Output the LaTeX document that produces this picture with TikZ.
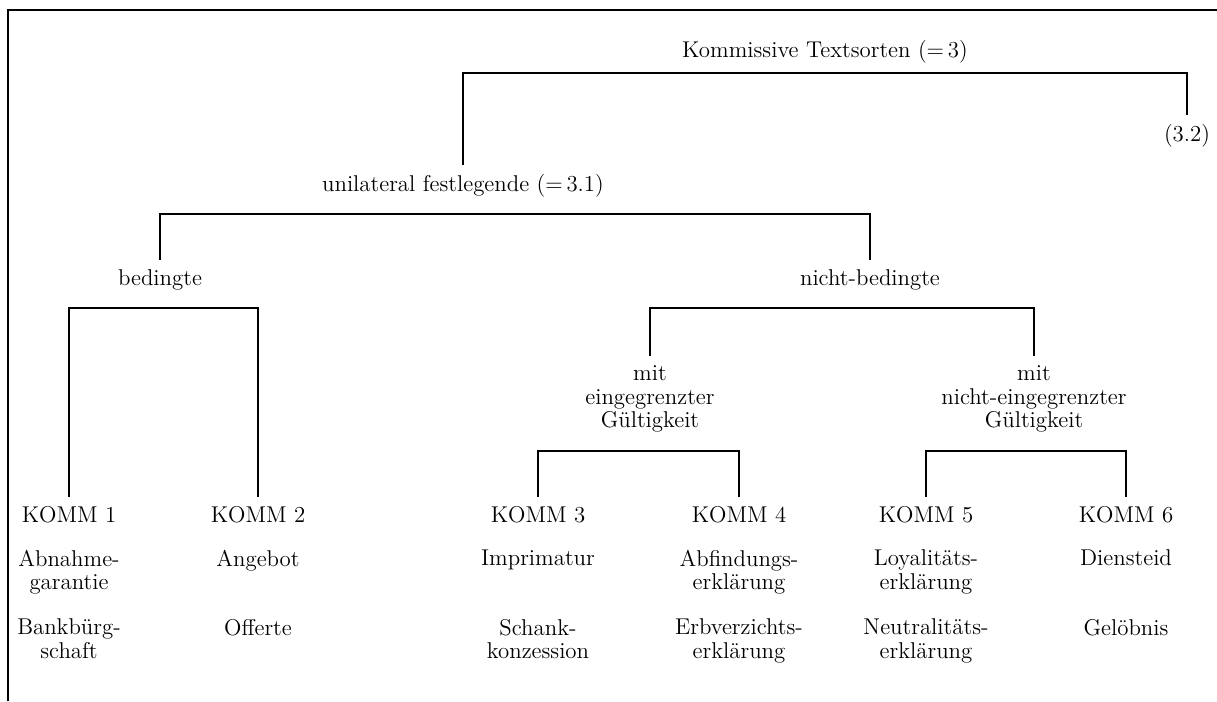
\documentclass[tikz,border=0pt]{standalone}
\usepackage{fontspec}
\usepackage{tikz}
\tikzset{
  kmlabel/.style={align=center, inner sep=5.5pt, font=\fontsize{13}{13.2}\selectfont},
  kmrow/.style={kmlabel, anchor=north},
  kmline/.style={line width=0.6pt},
  kmframe/.style={line width=1.1pt},
}
\begin{document}
\begin{tikzpicture}[x=0.2mm, y=-0.2mm]
  \useasboundingbox (0,0) rectangle (1217,701);
  \draw[kmframe] (8,701) |- (1217,10);

  % Upper levels of the classification.
  \node[kmlabel] (ks) at (825,52) {Kommissive Textsorten (=\,3)};
  \node[kmlabel] (uni) at (463,186) {unilateral festlegende (=\,3.1)};
  \node[kmlabel] (p32) at (1187,136) {(3.2)};
  \node[kmlabel] (bed) at (160,280) {bedingte};
  \node[kmlabel] (nbed) at (870,280) {nicht-bedingte};
  \node[kmlabel] (mit1) at (650,399) {mit\\eingegrenzter\\Gültigkeit};
  \node[kmlabel] (mit2) at (1034,399) {mit\\nicht-eingegrenzter\\Gültigkeit};

  % Text classes.
  \node[kmlabel] (k1) at (69,515) {KOMM 1};
  \node[kmlabel] (k2) at (258,515) {KOMM 2};
  \node[kmlabel] (k3) at (538,515) {KOMM 3};
  \node[kmlabel] (k4) at (739,515) {KOMM 4};
  \node[kmlabel] (k5) at (926,515) {KOMM 5};
  \node[kmlabel] (k6) at (1126,515) {KOMM 6};

  % Examples.
  \node[kmrow] (a1) at (69,540) {Abnahme-\\garantie};
  \node[kmrow] (a2) at (258,540) {Angebot};
  \node[kmrow] (a3) at (538,540) {Imprimatur};
  \node[kmrow] (a4) at (739,540) {Abfindungs-\\erklärung};
  \node[kmrow] (a5) at (926,540) {Loyalitäts-\\erklärung};
  \node[kmrow] (a6) at (1126,540) {Diensteid};
  \node[kmrow] (b1) at (69,609) {Bankbürg-\\schaft};
  \node[kmrow] (b2) at (258,609) {Offerte};
  \node[kmrow] (b3) at (538,609) {Schank-\\konzession};
  \node[kmrow] (b4) at (739,609) {Erbverzichts-\\erklärung};
  \node[kmrow] (b5) at (926,609) {Neutralitäts-\\erklärung};
  \node[kmrow] (b6) at (1126,609) {Gelöbnis};

  % Brackets.
  \coordinate (ksbar) at (0,73);
  \coordinate (unibar) at (0,214);
  \coordinate (midbar) at (0,308);
  \coordinate (lowbar) at (0,451);
  \draw[kmline] (uni.north) -- (uni.north |- ksbar) -| (p32.north);
  \draw[kmline] (bed.north) -- (bed.north |- unibar) -| (nbed.north);
  \draw[kmline] (k1.north) -- (k1.north |- midbar) -| (k2.north);
  \draw[kmline] (mit1.north) -- (mit1.north |- midbar) -| (mit2.north);
  \draw[kmline] (k3.north) -- (k3.north |- lowbar) -| (k4.north);
  \draw[kmline] (k5.north) -- (k5.north |- lowbar) -| (k6.north);
\end{tikzpicture}
\end{document}
